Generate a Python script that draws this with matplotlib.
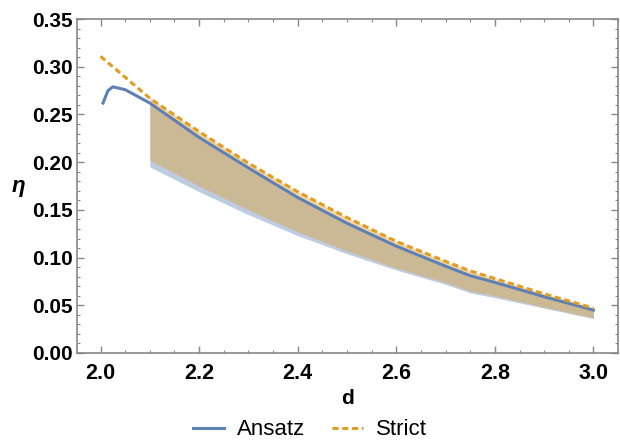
import matplotlib
matplotlib.use("Agg")
import matplotlib.pyplot as plt
from matplotlib.ticker import MultipleLocator
import numpy as np

# Ansatz curve (full range)
d_ansatz = [2.005, 2.015, 2.025, 2.05, 2.1, 2.2, 2.3, 2.4, 2.5, 2.6, 2.7, 2.75, 2.8, 2.9, 3.0]
eta_ansatz = [0.262, 0.275, 0.279, 0.276, 0.262, 0.226, 0.194, 0.163, 0.136, 0.112, 0.091, 0.081, 0.074, 0.059, 0.045]

# Strict curve
d_strict = [2.0, 2.05, 2.1, 2.2, 2.3, 2.4, 2.5, 2.6, 2.7, 2.75, 2.8, 2.9, 3.0]
eta_strict = [0.311, 0.289, 0.267, 0.232, 0.199, 0.169, 0.142, 0.117, 0.096, 0.086, 0.078, 0.062, 0.047]

# bands (from d = 2.1)
d_band = [2.1, 2.2, 2.3, 2.4, 2.5, 2.6, 2.7, 2.75, 2.8, 2.9, 3.0]
ansatz_hi = [0.262, 0.226, 0.194, 0.163, 0.136, 0.112, 0.091, 0.081, 0.074, 0.059, 0.045]
ansatz_lo = [0.195, 0.169, 0.145, 0.123, 0.104, 0.087, 0.072, 0.063, 0.058, 0.047, 0.036]
strict_hi = [0.267, 0.232, 0.199, 0.169, 0.142, 0.117, 0.096, 0.086, 0.078, 0.062, 0.047]
strict_lo = [0.202, 0.175, 0.150, 0.127, 0.107, 0.089, 0.074, 0.065, 0.060, 0.048, 0.037]

blue = "#5E81B5"
orange = "#E19C24"
gray = "#888888"

plt.rcParams['font.family'] = ['Liberation Sans', 'DejaVu Sans']

fig = plt.figure(figsize=(6.2, 4.44), dpi=100)
ax = fig.add_axes([0.124, 0.205, 0.873, 0.752])

# 填充区域
ax.fill_between(d_band, ansatz_lo, ansatz_hi, color=blue, alpha=0.4, lw=0)
ax.fill_between(d_band, strict_lo, strict_hi, color=orange, alpha=0.4, lw=0)

ax.plot(d_ansatz, eta_ansatz, color=blue, lw=2.2, label="Ansatz")
ax.plot(d_strict, eta_strict, color=orange, lw=2.2, ls=(0, (2.0, 1.2)), label="Strict")

ax.set_xlim(1.952, 3.05)
ax.set_ylim(0, 0.35)

ax.xaxis.set_major_locator(MultipleLocator(0.2))
ax.xaxis.set_minor_locator(MultipleLocator(0.05))
ax.yaxis.set_major_locator(MultipleLocator(0.05))
ax.yaxis.set_minor_locator(MultipleLocator(0.01))
ax.xaxis.set_major_formatter(plt.FuncFormatter(lambda v, p: f"{v:.1f}"))
ax.yaxis.set_major_formatter(plt.FuncFormatter(lambda v, p: f"{v:.2f}"))

ax.tick_params(which='both', direction='in', top=True, right=True, color=gray)
ax.tick_params(which='major', length=5, width=1)
ax.tick_params(which='minor', length=2.5, width=0.8)
ax.tick_params(axis='x', which='major', labelsize=15.5, pad=7)
ax.tick_params(axis='y', which='major', labelsize=15, pad=3)
for lab in ax.get_xticklabels() + ax.get_yticklabels():
    lab.set_fontweight('bold')
for sp in ax.spines.values():
    sp.set_color(gray)
    sp.set_linewidth(1.2)

ax.set_xlabel("d", fontsize=15, fontweight='bold', labelpad=4)
ax.set_ylabel("η", fontsize=16, fontweight='bold', fontstyle='italic', rotation=0, labelpad=10, va='center')

fig.legend(loc='center', bbox_to_anchor=(0.5, 0.032), ncol=2, frameon=False,
           fontsize=16, handlelength=1.4, columnspacing=1.2, handletextpad=0.6)

plt.savefig("out.png", dpi=100)
